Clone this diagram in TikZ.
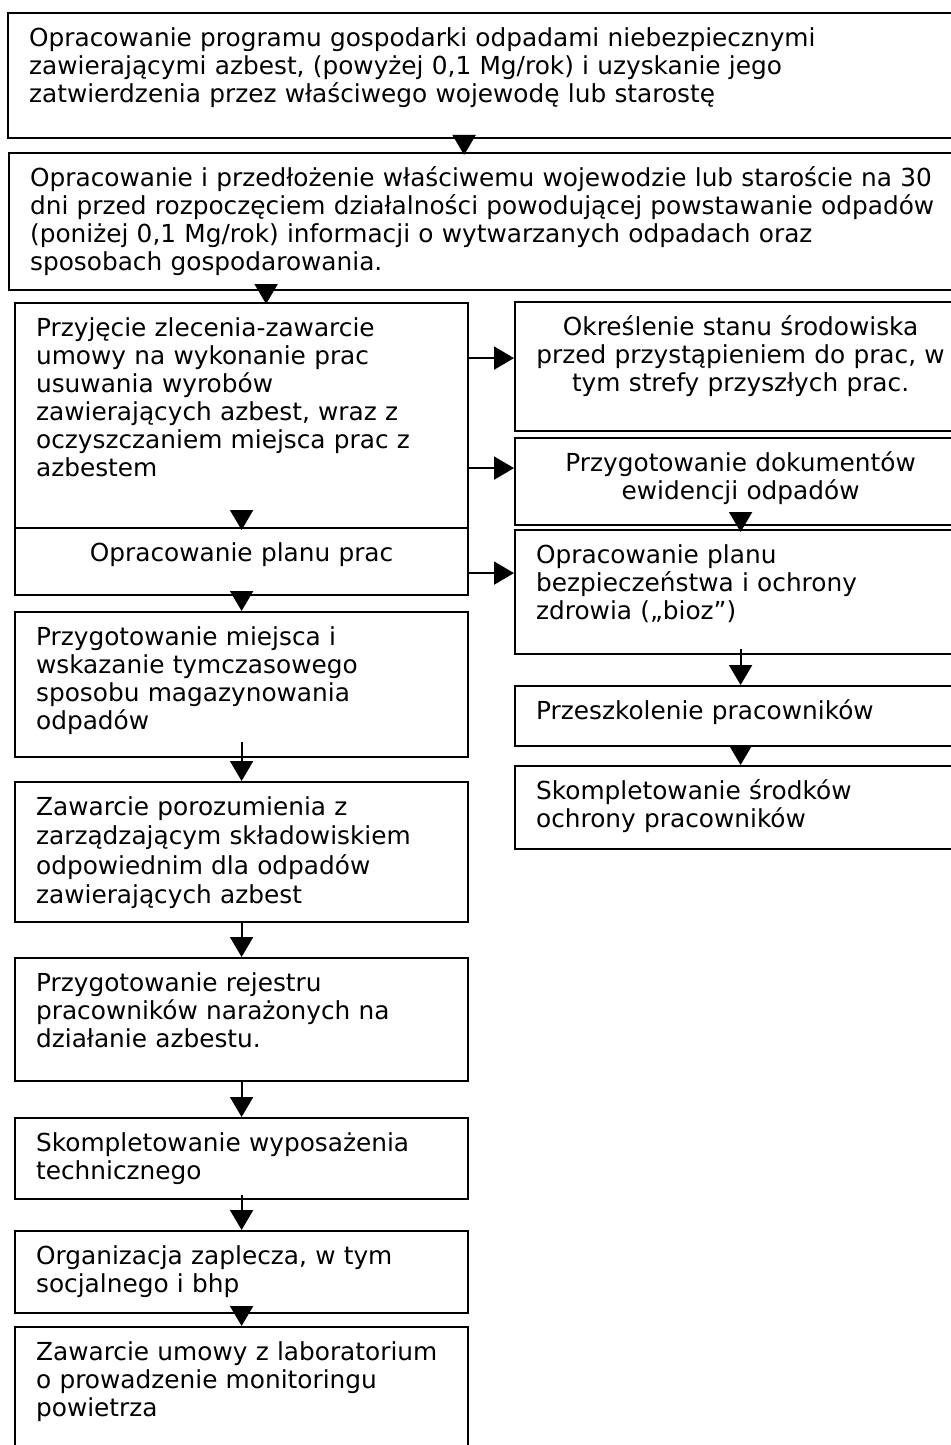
\documentclass[tikz,border=0pt]{standalone}
\usepackage{fontspec}
\setmainfont{DejaVu Sans}
\usetikzlibrary{arrows.meta}

\begin{document}
\begin{tikzpicture}[x=0.5pt, y=-0.5pt, font=\fontsize{12.4}{14}\selectfont,
  >={Triangle[length=10pt,width=11.5pt]},
  blk/.style={draw, line width=1.1pt, anchor=north west, align=left, inner xsep=10.5pt, inner ysep=4pt, text height=12.5pt},
  blkc/.style={blk, align=center, inner xsep=5pt},
  arr/.style={->, line width=1pt}]
\useasboundingbox (0,0) rectangle (951,1445);
\clip (0,0) rectangle (951,1445);
% TOP: wide steps
\node[blk, text width=455.5pt, text depth=42pt] (prog) at (7,12) {Opracowanie programu gospodarki odpadami niebezpiecznymi\\ zawierającymi azbest, (powyżej 0,1 Mg/rok) i uzyskanie jego\\ zatwierdzenia przez właściwego wojewodę lub starostę};
\node[blk, text width=455pt, text depth=48pt] (info) at (8,152) {Opracowanie i przedłożenie właściwemu wojewodzie lub staroście na 30\\ dni przed rozpoczęciem działalności powodującej powstawanie odpadów\\ (poniżej 0,1 Mg/rok) informacji o wytwarzanych odpadach oraz\\ sposobach gospodarowania.};
% LEFT column
\node[blk, text width=205.5pt, text depth=92pt] (zlec) at (14,302) {Przyjęcie zlecenia-zawarcie\\ umowy na wykonanie prac\\ usuwania wyrobów\\ zawierających azbest, wraz z\\ oczyszczaniem miejsca prac z\\ azbestem};
\node[blkc, text width=216.5pt, text depth=13pt] (plan) at (14,527) {Opracowanie planu prac};
\node[blk, text width=205.5pt, text depth=52pt] (miej) at (14,611) {Przygotowanie miejsca i\\ wskazanie tymczasowego\\ sposobu magazynowania\\ odpadów};
\node[blk, text width=205.5pt, text depth=49.5pt, font=\fontsize{12.4}{14.8}\selectfont] (poro) at (14,781) {Zawarcie porozumienia z\\ zarządzającym składowiskiem\\ odpowiednim dla odpadów\\ zawierających azbest};
\node[blk, text width=205.5pt, text depth=41pt] (rejs) at (14,957) {Przygotowanie rejestru\\ pracowników narażonych na\\ działanie azbestu.};
\node[blk, text width=205.5pt, text depth=20pt] (wyps) at (14,1117) {Skompletowanie wyposażenia\\ technicznego};
\node[blk, text width=205.5pt, text depth=20.5pt] (zapl) at (14,1230) {Organizacja zaplecza, w tym\\ socjalnego i bhp};
\node[blk, text width=205.5pt, text depth=46.5pt] (labo) at (14,1326) {Zawarcie umowy z laboratorium\\ o prowadzenie monitoringu\\ powietrza};
% RIGHT column
\node[blkc, text width=215.5pt, text depth=44pt] (stan) at (514,301) {Określenie stanu środowiska\\ przed przystąpieniem do prac, w\\ tym strefy przyszłych prac.};
\node[blkc, text width=215.5pt, text depth=23pt] (doku) at (514,437) {Przygotowanie dokumentów\\ ewidencji odpadów};
\node[blk, text width=204.5pt, text depth=41.5pt] (bioz) at (514,529) {Opracowanie planu\\ bezpieczeństwa i ochrony\\ zdrowia („bioz”)};
\node[blk, text width=204.5pt, text depth=9.5pt] (szko) at (514,685) {Przeszkolenie pracowników};
\node[blk, text width=204.5pt, text depth=21pt] (srod) at (514,765) {Skompletowanie środków\\ ochrony pracowników};
% arrows
\draw[arr] ([xshift=-10.25pt]prog.south) -- ([xshift=-10.25pt,yshift=-1.5pt]prog.south |- info.north);
\draw[arr] ([xshift=12.25pt]zlec.north |- info.south) -- ([xshift=12.25pt,yshift=-1pt]zlec.north);
\draw[arr] ([yshift=9pt]zlec.south) -- ([yshift=-1.5pt]plan.north);
\draw[arr] (plan.south) -- (miej.north);
\draw[arr] ([yshift=8pt]miej.south) -- (poro.north);
\draw[arr] (poro.south) -- (rejs.north);
\draw[arr] (rejs.south) -- (wyps.north);
\draw[arr] ([yshift=2.5pt]wyps.south) -- (zapl.north);
\draw[arr] ([yshift=4pt]zapl.south) -- (labo.north);
\draw[arr] ([yshift=6pt]doku.south) -- ([yshift=-1.5pt]bioz.north);
\draw[arr] ([yshift=3pt]bioz.south) -- (szko.north);
\draw[arr] (szko.south) -- (srod.north);
\draw[arr] ([yshift=4.25pt]stan.west -| zlec.east) -- ([yshift=4.25pt]stan.west);
\draw[arr] ([yshift=6.75pt]doku.west -| zlec.east) -- ([yshift=6.75pt]doku.west);
\draw[arr] ([yshift=9.5pt]bioz.west -| plan.east) -- ([yshift=9.5pt]bioz.west);
\end{tikzpicture}
\end{document}
